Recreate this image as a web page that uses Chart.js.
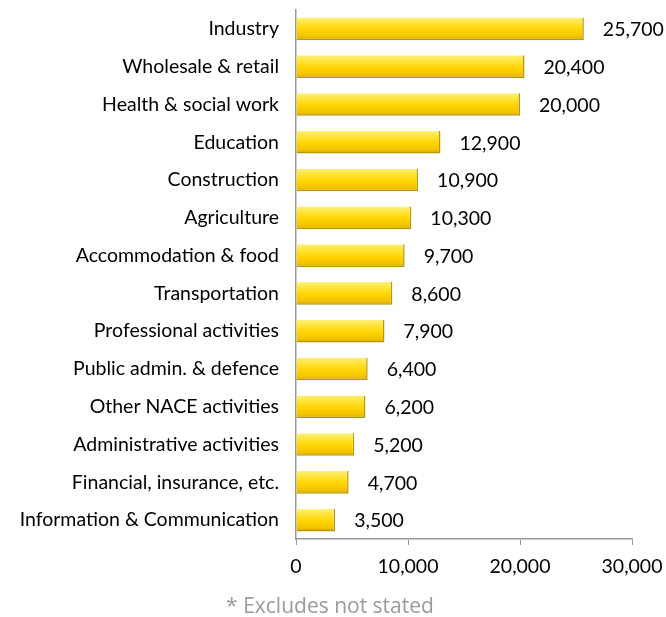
<!DOCTYPE html>
<html>
<head>
<meta charset="utf-8">
<script src="https://cdn.jsdelivr.net/npm/chart.js@4.4.1/dist/chart.umd.min.js"></script>
<style>
  html, body { margin: 0; padding: 0; background: #fff; }
</style>
</head>
<body>
<canvas id="chart" width="666" height="617"></canvas>
<script>
// sectors, largest first
const sectors = [
  'Industry',
  'Wholesale & retail',
  'Health & social work',
  'Education',
  'Construction',
  'Agriculture',
  'Accommodation & food',
  'Transportation',
  'Professional activities',
  'Public admin. & defence',
  'Other NACE activities',
  'Administrative activities',
  'Financial, insurance, etc.',
  'Information & Communication'
];
const persons = [25700, 20400, 20000, 12900, 10900, 10300, 9700, 8600, 7900, 6400, 6200, 5200, 4700, 3500];
const xTicks = [0, 10000, 20000, 30000];
const footnote = '* Excludes not stated';

const FONT = 'Lato, "Open Sans", sans-serif';
const FONT_SIZE = 19.5;
const BAR_PCT = 0.6;

// gold bevel look, built per bar from the category scale
function goldFill(ctx) {
  const chart = ctx.chart;
  const y = chart.scales.y;
  if (!chart.chartArea || !y || y.ticks.length === 0) return '#FFD200';
  const mid = y.getPixelForValue(ctx.dataIndex);
  const h = (chart.chartArea.height / sectors.length) * BAR_PCT;
  const top = mid - h / 2;
  if (!isFinite(top)) return '#FFD200';
  const g = chart.ctx.createLinearGradient(0, top, 0, top + h);
  g.addColorStop(0, '#FFF07A');
  g.addColorStop(0.3, '#FFE12E');
  g.addColorStop(0.55, '#FFD400');
  g.addColorStop(0.85, '#F2C200');
  g.addColorStop(1, '#C9A000');
  return g;
}

const valueLabels = {
  id: 'valueLabels',
  afterDatasetsDraw(chart) {
    const c = chart.ctx;
    const meta = chart.getDatasetMeta(0);
    c.save();
    c.font = FONT_SIZE + 'px ' + FONT;
    c.fillStyle = '#000';
    c.textBaseline = 'middle';
    c.textAlign = 'left';
    meta.data.forEach((bar, i) => {
      c.fillText(persons[i].toLocaleString('en-US'), bar.x + 19, bar.y + 1);
    });
    // footnote under the axis
    c.font = '21px "Open Sans", sans-serif';
    c.fillStyle = '#9a9a9a';
    c.textAlign = 'center';
    c.fillText(footnote, 330, 607);
    c.restore();
  }
};

new Chart(document.getElementById('chart'), {
  type: 'bar',
  data: {
    labels: sectors,
    datasets: [{
      data: persons,
      backgroundColor: goldFill,
      borderColor: '#B8980A',
      borderWidth: { top: 0, left: 0, right: 1.5, bottom: 1.5 },
      borderSkipped: 'start',
      categoryPercentage: 1,
      barPercentage: BAR_PCT
    }]
  },
  options: {
    indexAxis: 'y',
    responsive: false,
    animation: false,
    layout: { padding: { top: 10, right: 34, bottom: 23, left: 0 } },
    plugins: {
      legend: { display: false },
      tooltip: { enabled: false }
    },
    scales: {
      x: {
        min: 0,
        max: 30000,
        afterBuildTicks(scale) { scale.ticks = xTicks.map(v => ({ value: v })); },
        afterFit(scale) {
          scale.height = 55;
          scale.paddingLeft = 0;
          scale.paddingRight = 0;
        },
        grid: { display: true, drawOnChartArea: false, drawTicks: true, tickLength: 6, color: '#9a9a9a' },
        border: { display: true, color: '#9a9a9a', width: 1.5 },
        ticks: {
          color: '#000',
          padding: 10,
          font: { family: FONT, size: FONT_SIZE },
          callback: v => v.toLocaleString('en-US')
        }
      },
      y: {
        afterFit(scale) {
          scale.width = 296;
          scale.paddingTop = 0;
          scale.paddingBottom = 0;
        },
        grid: { display: false },
        border: { display: true, color: '#9a9a9a', width: 1.5 },
        ticks: {
          color: '#000',
          padding: 9,
          font: { family: FONT, size: FONT_SIZE }
        }
      }
    }
  },
  plugins: [valueLabels]
});
</script>
</body>
</html>
